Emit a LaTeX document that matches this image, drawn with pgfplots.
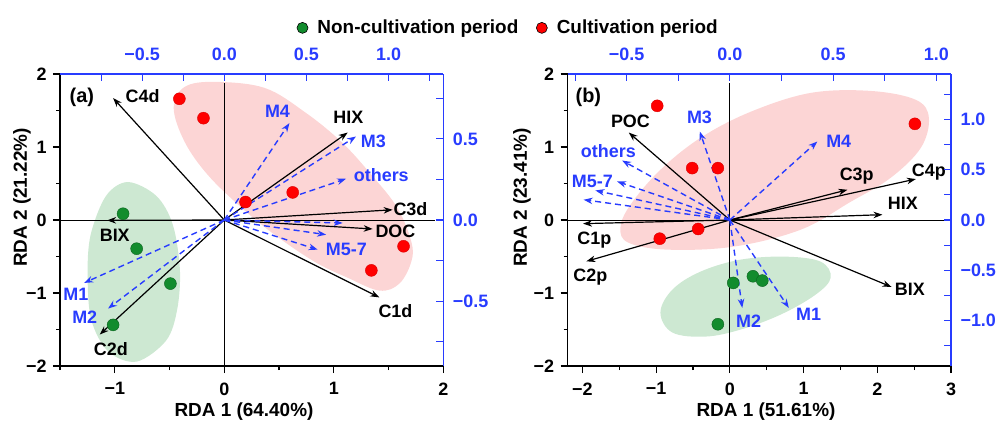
\documentclass[border=0pt]{standalone}
\usepackage{fontspec}
\setmainfont{Liberation Sans}
\usepackage{pgfplots}
\pgfplotsset{compat=1.18}
\usetikzlibrary{arrows.meta}
\definecolor{myblue}{RGB}{40,60,255}
\definecolor{mygreen}{RGB}{18,140,45}
\definecolor{myred}{RGB}{255,0,0}
\definecolor{pinkfill}{RGB}{252,213,213}
\definecolor{greenfill}{RGB}{205,232,210}
\tikzset{
  lab/.style={font=\fontsize{18}{21}\selectfont\bfseries, inner sep=0pt},
  blab/.style={lab, text=myblue}
}
\pgfplotsset{
  base/.style={scale only axis, width=383.3bp, height=292bp, anchor=south west,
    tick label style={font=\fontsize{18}{21}\selectfont\bfseries},
    major tick length=7bp, minor tick length=4bp,
    every tick/.style={line width=1.1bp},
    every minor tick/.style={line width=1.1bp}},
  main/.style={base, axis x line*=bottom, axis y line*=left,
    axis line style={-, line width=1.3bp, black}, tick align=outside, tick style={black},
    x tick label style={yshift=-6bp}, y tick label style={xshift=-3bp}},
  sec/.style={base, axis x line*=top, axis y line*=right,
    axis line style={-, line width=1.3bp, myblue}, tick align=inside,
    major tick length=7bp, minor tick length=7bp,
    tick style={myblue}, tick label style={text=myblue},
    x tick label style={yshift=10bp}, y tick label style={xshift=6bp}},
  blk/.style={black, line width=1.2bp, -{Stealth[length=9bp,width=6.5bp]}},
  blu/.style={myblue, line width=1.4bp, dash pattern=on 6bp off 4bp, -{Stealth[length=9bp,width=6.5bp]}},
  org/.style={black, line width=0.9bp},
  redpts/.style={only marks, mark=*, mark size=6bp, mark options={fill=myred, draw=myred!85!black, line width=0.4bp}},
  grnpts/.style={only marks, mark=*, mark size=6bp, mark options={fill=mygreen, draw=mygreen!70!black, line width=0.4bp}}
}
\begin{document}
\begin{tikzpicture}
\useasboundingbox (0bp,0bp) rectangle (998bp,423bp);
% ---------------- panel (a) ----------------
\begin{axis}[main, at={(60bp,57bp)}, xmin=-1.5, xmax=2, ymin=-2, ymax=2,
  xtick={-1,0,1,2}, xticklabels={−1,0,1,2}, minor xtick={-1.5,-0.5,0.5,1.5},
  ytick={-2,-1,0,1,2}, yticklabels={−2,−1,0,1,2}, minor ytick={-1.5,-0.5,0.5,1.5},
  legend style={at={(axis description cs:0.61,1.158)}, anchor=west, draw=none, fill=none,
    font=\fontsize{19}{22}\selectfont\bfseries, legend columns=2,
    /tikz/every even column/.append style={column sep=16bp}},
  legend image code/.code={\draw[#1] plot coordinates {(6bp,0bp)}; \node[inner sep=0pt, minimum size=0pt, draw=none, fill=none] at (19bp,0bp) {};}]
\addlegendimage{only marks, mark=*, mark size=5.5bp, mark options={fill=mygreen, draw=black, line width=0.6bp}}
\addlegendentry{Non-cultivation period}
\addlegendimage{only marks, mark=*, mark size=5.5bp, mark options={fill=myred, draw=black, line width=0.6bp}}
\addlegendentry{Cultivation period}
\addplot[fill=pinkfill, draw=none, smooth cycle, tension=0.6, forget plot] coordinates {
 (-0.088,1.892) (0.367,1.810) (0.732,1.482) (1.069,1.071) (1.343,0.620) (1.580,0.168)
 (1.708,-0.297) (1.708,-0.570) (1.599,-0.871) (1.416,-0.967) (1.124,-0.789) (0.823,-0.570)
 (0.459,-0.201) (0.158,0.168) (-0.152,0.620) (-0.362,1.071) (-0.462,1.536) (-0.362,1.823)};
\addplot[fill=greenfill, draw=none, smooth cycle, tension=0.55, forget plot] coordinates {
 (-0.880,0.520) (-0.620,0.330) (-0.470,-0.064) (-0.405,-0.680) (-0.430,-1.227) (-0.530,-1.650)
 (-0.800,-1.940) (-1.060,-1.800) (-1.215,-1.364) (-1.248,-0.748) (-1.220,-0.201) (-1.080,0.330)};
\addplot[org, forget plot] coordinates {(-1.5,0) (1.92,0)};
\addplot[org, forget plot] coordinates {(0,-2) (0,1.88)};
% black arrows
\addplot[blk, forget plot] coordinates {(0,0) (-1.015,1.67)};
\addplot[blk, forget plot] coordinates {(0,0) (1.127,1.198)};
\addplot[blk, forget plot] coordinates {(0,0) (1.537,0.14)};
\addplot[blk, forget plot] coordinates {(0,0) (1.355,-0.123)};
\addplot[blk, forget plot] coordinates {(0,0) (1.416,-1.06)};
\addplot[blk, forget plot] coordinates {(0,0) (-1.137,-1.569)};
\addplot[blk, forget plot] coordinates {(0,0) (-1.07,-0.005)};
% blue arrows
\addplot[blu, forget plot] coordinates {(0,0) (0.595,1.327)};
\addplot[blu, forget plot] coordinates {(0,0) (1.203,1.144)};
\addplot[blu, forget plot] coordinates {(0,0) (1.112,0.565)};
\addplot[blu, forget plot] coordinates {(0,0) (1.081,-0.041)};
\addplot[blu, forget plot] coordinates {(0,0) (0.93,-0.201)};
\addplot[blu, forget plot] coordinates {(0,0) (0.853,-0.406)};
\addplot[blu, forget plot] coordinates {(0,0) (-1.28,-0.862)};
\addplot[blu, forget plot] coordinates {(0,0) (-1.061,-1.213)};
% points
\addplot[redpts, forget plot] coordinates {(-0.41,1.66) (-0.19,1.395) (0.194,0.246) (0.625,0.378) (1.637,-0.36) (1.343,-0.69)};
\addplot[grnpts, forget plot] coordinates {(-0.924,0.086) (-0.80,-0.393) (-0.492,-0.871) (-1.015,-1.437)};
% labels
\node[lab, font=\fontsize{20}{23}\selectfont\bfseries] at (axis cs:-1.301,1.687) {(a)};
\node[lab] at (axis cs:-0.745,1.700) {C4d};
\node[lab] at (axis cs:1.133,1.413) {HIX};
\node[lab] at (axis cs:1.700,0.155) {C3d};
\node[lab] at (axis cs:1.563,-0.160) {DOC};
\node[lab] at (axis cs:1.563,-1.254) {C1d};
\node[lab] at (axis cs:-1.000,-0.215) {BIX};
\node[lab] at (axis cs:-1.036,-1.774) {C2d};
\node[blab] at (axis cs:0.486,1.482) {M4};
\node[blab] at (axis cs:1.361,1.071) {M3};
\node[blab] at (axis cs:1.434,0.620) {others};
\node[blab] at (axis cs:1.115,-0.406) {M5-7};
\node[blab] at (axis cs:-1.356,-1.022) {M1};
\node[blab] at (axis cs:-1.274,-1.337) {M2};
\end{axis}
\begin{axis}[sec, at={(60bp,57bp)}, xmin=-1, xmax=1.33333, ymin=-0.9, ymax=0.9,
  xtick={-0.5,0,0.5,1}, xticklabels={−0.5,0.0,0.5,1.0}, minor xtick={-0.75,-0.25,0.25,0.75,1.25},
  ytick={-0.5,0,0.5}, yticklabels={−0.5,0.0,0.5}, minor ytick={-0.75,-0.25,0.25,0.75}]
\addplot[draw=none] coordinates {(0,0)};
\end{axis}
% ---------------- panel (b) ----------------
\begin{axis}[main, at={(567.7bp,57bp)}, xmin=-2.2, xmax=3, ymin=-2, ymax=2,
  xtick={-2,-1,0,1,2,3}, xticklabels={−2,−1,0,1,2,3}, minor xtick={-1.5,-0.5,0.5,1.5,2.5},
  ytick={-2,-1,0,1,2}, yticklabels={−2,−1,0,1,2}, minor ytick={-1.5,-0.5,0.5,1.5}]
\addplot[fill=pinkfill, draw=none, smooth cycle, tension=0.6] coordinates {
 (-1.485,-0.105) (-1.349,0.209) (-0.942,0.688) (-0.398,1.126) (0.281,1.482) (1.096,1.741)
 (1.912,1.768) (2.523,1.646) (2.700,1.400) (2.591,0.989) (2.183,0.579) (1.640,0.250)
 (0.961,-0.133) (0.050,-0.365) (-0.846,-0.406) (-1.376,-0.311)};
\addplot[fill=greenfill, draw=none, smooth cycle, tension=0.6] coordinates {
 (-0.942,-1.268) (-0.779,-0.953) (-0.398,-0.707) (0.145,-0.543) (0.757,-0.502) (1.232,-0.571)
 (1.368,-0.789) (1.164,-1.022) (0.689,-1.296) (0.145,-1.501) (-0.330,-1.597) (-0.779,-1.542)};
\addplot[org] coordinates {(-2.2,0) (2.9,0)};
\addplot[org] coordinates {(0,-2) (0,1.88)};
\addplot[blk] coordinates {(0,0) (-1.372,1.198)};
\addplot[blk] coordinates {(0,0) (1.595,0.414)};
\addplot[blk] coordinates {(0,0) (2.523,0.561)};
\addplot[blk] coordinates {(0,0) (2.07,0.073)};
\addplot[blk] coordinates {(0,0) (2.193,-0.917)};
\addplot[blk] coordinates {(0,0) (-1.992,-0.05)};
\addplot[blk] coordinates {(0,0) (-1.947,-0.566)};
\addplot[blu] coordinates {(0,0) (-0.408,1.212)};
\addplot[blu] coordinates {(0,0) (1.187,1.075)};
\addplot[blu] coordinates {(0,0) (-1.462,0.815)};
\addplot[blu] coordinates {(0,0) (-1.53,0.528)};
\addplot[blu] coordinates {(0,0) (-1.825,0.405)};
\addplot[blu] coordinates {(0,0) (-1.984,0.278)};
\addplot[blu] coordinates {(0,0) (0.168,-1.204)};
\addplot[blu] coordinates {(0,0) (0.80,-1.204)};
\addplot[redpts] coordinates {(-0.986,1.564) (-0.511,0.711) (-0.163,0.711) (2.51,1.317) (-0.951,-0.256) (-0.43,-0.123)};
\addplot[grnpts] coordinates {(0.046,-0.862) (0.313,-0.771) (0.44,-0.83) (-0.163,-1.428)};
\node[lab, font=\fontsize{20}{23}\selectfont\bfseries] at (axis cs:-1.920,1.687) {(b)};
\node[lab] at (axis cs:-1.349,1.358) {POC};
\node[lab] at (axis cs:1.721,0.606) {C3p};
\node[lab] at (axis cs:2.700,0.661) {C4p};
\node[lab] at (axis cs:2.346,0.223) {HIX};
\node[lab] at (axis cs:-1.838,-0.269) {C1p};
\node[lab] at (axis cs:-1.893,-0.776) {C2p};
\node[lab] at (axis cs:2.441,-0.953) {BIX};
\node[blab] at (axis cs:-0.412,1.400) {M3};
\node[blab] at (axis cs:1.477,1.071) {M4};
\node[blab] at (axis cs:-1.648,0.948) {others};
\node[blab] at (axis cs:-1.865,0.524) {M5-7};
\node[blab] at (axis cs:0.254,-1.391) {M2};
\node[blab] at (axis cs:1.067,-1.296) {M1};
\end{axis}
\begin{axis}[sec, at={(567.7bp,57bp)}, xmin=-0.785714, xmax=1.071429, ymin=-1.45, ymax=1.45,
  xtick={-0.5,0,0.5,1}, xticklabels={−0.5,0.0,0.5,1.0}, minor xtick={-0.75,-0.25,0.25,0.75},
  ytick={-1,-0.5,0,0.5,1}, yticklabels={−1.0,−0.5,0.0,0.5,1.0}, minor ytick={-1.25,-0.75,-0.25,0.25,0.75,1.25}]
\addplot[draw=none] coordinates {(0,0)};
\end{axis}
% axis titles
\node[lab, font=\fontsize{19}{22}\selectfont\bfseries] at (244bp,11.3bp) {RDA 1 (64.40\%)};
\node[lab, rotate=90, font=\fontsize{19}{22}\selectfont\bfseries] at (22bp,225.5bp) {RDA 2 (21.22\%)};
\node[lab, font=\fontsize{19}{22}\selectfont\bfseries] at (766bp,11.3bp) {RDA 1 (51.61\%)};
\node[lab, rotate=90, font=\fontsize{19}{22}\selectfont\bfseries] at (522bp,225.5bp) {RDA 2 (23.41\%)};
\end{tikzpicture}
\end{document}
